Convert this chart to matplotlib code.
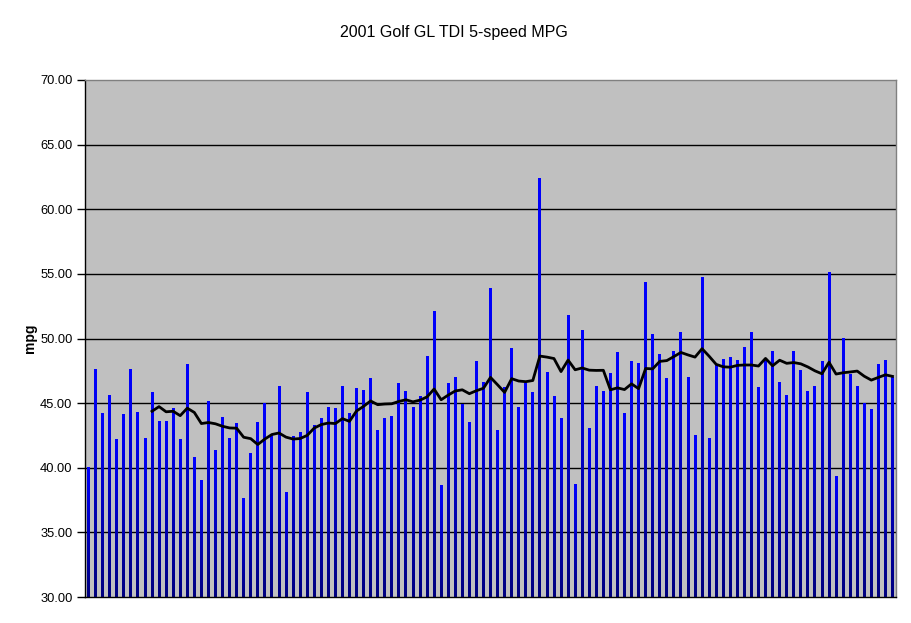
import matplotlib
matplotlib.use("Agg")
import matplotlib.pyplot as plt
import numpy as np
import pandas as pd

plt.rcParams["font.family"] = ["Liberation Sans", "DejaVu Sans"]

TITLE = "2001 Golf GL TDI 5-speed MPG"
Y_LABEL = "mpg"

# mpg per fill-up (left to right)
mpg = [
    40.0, 47.6, 44.2, 45.6, 42.2, 44.1, 47.6, 44.3, 42.3, 45.8,
    43.6, 43.6, 44.6, 42.2, 48.0, 40.8, 39.0, 45.1, 41.3, 43.9,
    42.3, 43.4, 37.6, 41.1, 43.5, 45.0, 42.5, 46.3, 38.1, 42.4,
    42.7, 45.8, 43.3, 43.8, 44.7, 44.6, 46.3, 44.2, 46.1, 46.0,
    46.9, 42.9, 43.8, 44.0, 46.5, 45.9, 44.7, 45.5, 48.6, 52.1,
    38.6, 46.5, 47.0, 44.9, 43.5, 48.2, 46.6, 53.9, 42.9, 46.2,
    49.2, 44.7, 46.5, 45.8, 62.4, 47.4, 45.5, 43.8, 51.8, 38.7,
    50.6, 43.0, 46.3, 45.9, 47.3, 48.9, 44.2, 48.2, 48.1, 54.3,
    50.3, 48.8, 46.9, 49.0, 50.5, 47.0, 42.5, 54.7, 42.3, 48.0,
    48.4, 48.5, 48.3, 49.3, 50.5, 46.2, 48.4, 49.0, 46.6, 45.6,
    49.0, 47.5, 45.9, 46.3, 48.2, 55.1, 39.3, 50.0, 47.2, 46.3,
    45.0, 44.5, 48.0, 48.3, 47.0,
]
y_ticks = [30, 35, 40, 45, 50, 55, 60, 65, 70]

# 10-point moving average trendline, as Excel draws it
ma = pd.Series(mpg).rolling(10).mean()

fig = plt.figure(figsize=(9.11, 6.23), dpi=100)
ax = fig.add_axes([85 / 911, 1 - 597 / 623, 811 / 911, 517 / 623])
ax.set_facecolor("#c0c0c0")

x = np.arange(len(mpg))

# gridlines
for t in y_ticks[1:-1]:
    ax.axhline(t, color="black", lw=1.0, zorder=1)

# bars with a top-to-bottom blue gradient
grad = np.linspace(0, 1, 64).reshape(-1, 1)
cmap = matplotlib.colors.LinearSegmentedColormap.from_list("bl", ["#0000ff", "#000080"])
bw = 0.4
for xi, v in zip(x, mpg):
    ax.imshow(grad, cmap=cmap, aspect="auto", origin="upper",
              extent=(xi - bw / 2, xi + bw / 2, 30, v), zorder=2,
              interpolation="bilinear")
ax.set_xlim(-0.5, len(mpg) - 0.5)
ax.set_ylim(30, 70)

ax.plot(x, ma, color="black", lw=2.0, zorder=3)

ax.set_yticks(y_ticks)
ax.set_yticklabels([f"{t:.2f}" for t in y_ticks], fontsize=9.3)
ax.tick_params(axis="y", direction="out", length=6, width=1, pad=3)
ax.set_xticks([])

for s in ["top", "right"]:
    ax.spines[s].set_color("#808080")
    ax.spines[s].set_linewidth(1)
for s in ["left", "bottom"]:
    ax.spines[s].set_color("black")
    ax.spines[s].set_linewidth(1)

fig.text(30 / 911, 1 - 338 / 623, Y_LABEL, rotation=90, ha="center", va="center",
         fontsize=10, fontweight="bold")
fig.text(454 / 911, 1 - 32 / 623, TITLE, ha="center", va="center", fontsize=11.5)

fig.savefig("out.png", dpi=100)
